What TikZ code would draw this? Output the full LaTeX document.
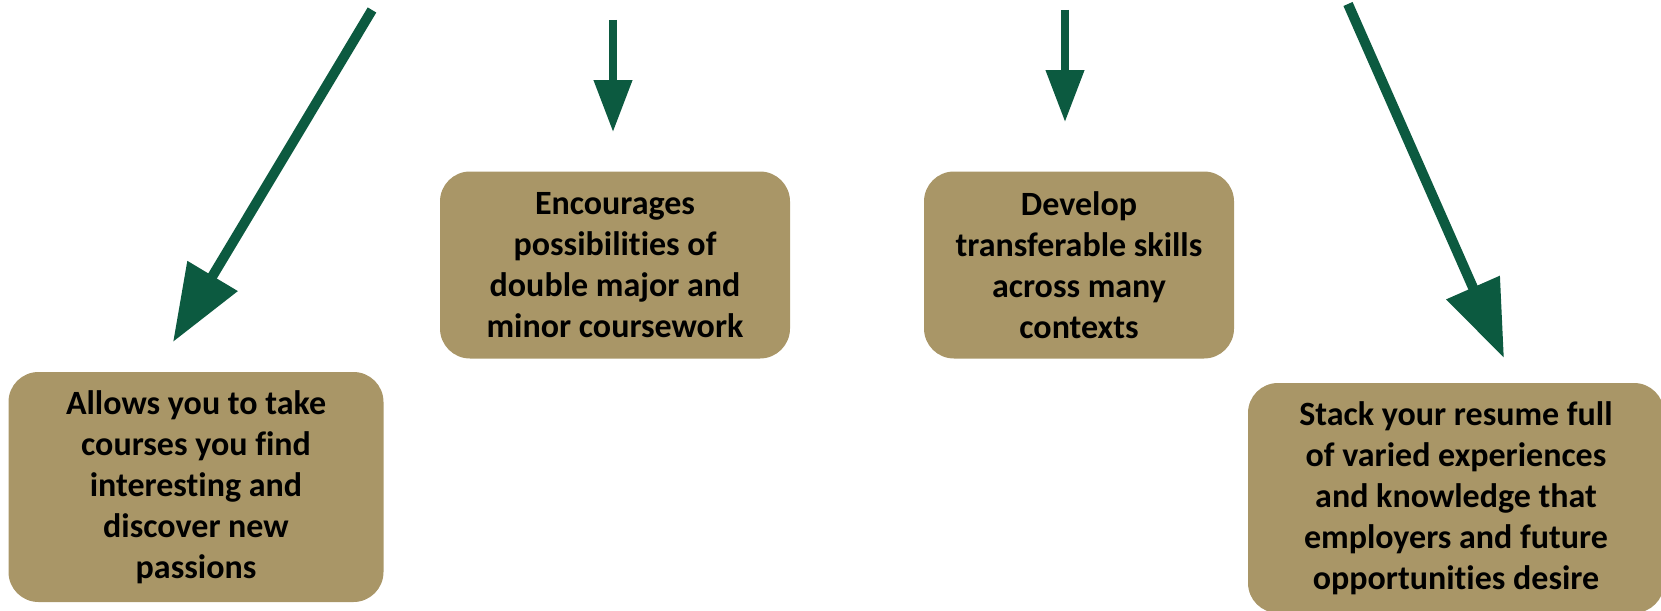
\documentclass[tikz,border=0pt]{standalone}
\usepackage{fontspec}
\setmainfont[Ligatures=CommonOff]{Carlito}
\usetikzlibrary{arrows.meta}
\definecolor{khaki}{HTML}{A99667}
\definecolor{arrowgreen}{HTML}{0C5A40}
\tikzset{
  benefit/.style={fill=khaki, rounded corners=30pt, inner sep=0pt, align=center,
    font=\fontsize{34}{41}\selectfont\bfseries},
  pointer/.style={draw=arrowgreen, line width=10pt, -{Triangle[length=77pt,width=56pt]}},
  shortpointer/.style={draw=arrowgreen, line width=7.5pt, -{Triangle[length=52pt,width=37pt]}}
}
\begin{document}
\begin{tikzpicture}[x=1pt,y=-1pt]
  \useasboundingbox (0,0) rectangle (1661,610);
  % boxes
  \node[benefit, minimum width=375pt, minimum height=230pt] (allows) at (196,487)
    {Allows you to take\\courses you find\\interesting and\\discover new\\passions};
  \node[benefit, minimum width=350pt, minimum height=187pt] (encourages) at (615,265)
    {Encourages\\possibilities of\\double major and\\minor coursework};
  \node[benefit, minimum width=310pt, minimum height=187pt] (develop) at (1079,265)
    {Develop\\transferable skills\\across many\\contexts};
  \node[benefit, minimum width=416pt, minimum height=230pt] (stack) at (1456,498)
    {Stack your resume full\\of varied experiences\\and knowledge that\\employers and future\\opportunities desire};
  % arrows
  \coordinate (allowsfrom) at (372,10);
  \coordinate (allowsto) at (173,342);
  \coordinate (encfrom) at (613,20);
  \coordinate (encto) at (613,132);
  \coordinate (devfrom) at (1065,10);
  \coordinate (devto) at (1065,122);
  \coordinate (stackfrom) at (1348,4);
  \coordinate (stackto) at (1504,358);
  \draw[pointer] (allowsfrom) -- (allowsto);
  \draw[shortpointer] (encfrom) -- (encto);
  \draw[shortpointer] (devfrom) -- (devto);
  \draw[pointer] (stackfrom) -- (stackto);
\end{tikzpicture}
\end{document}
